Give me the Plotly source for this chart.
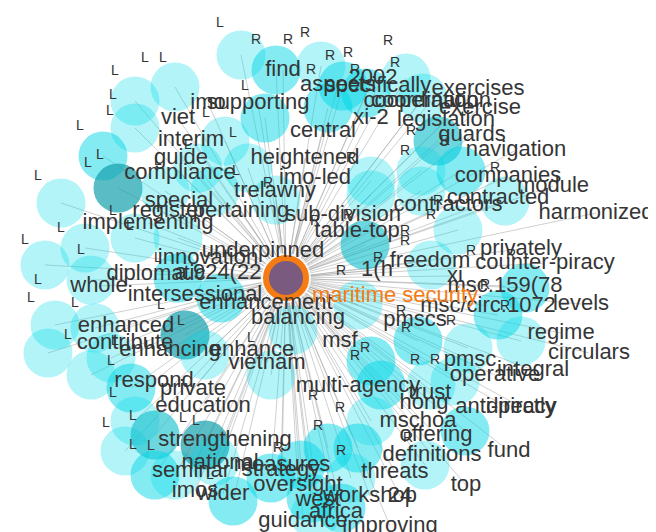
import plotly.graph_objects as go

# ---- data: network layout (pixel-space layout coordinates) ----
center_name = "maritime security"
center_xy = (278, 270)

words = ["find", "aspects", "specifically", "2002", "coordination", "cooperation", "exercises",
         "exercise", "legislation", "xi-2", "guards", "navigation", "companies", "module",
         "contracted", "contractors", "harmonized", "sub-division", "table-top", "freedom",
         "counter-piracy", "privately", "1(h", "xi", "msc.159(78", "msc/circ.1072", "levels",
         "pmscs", "msf", "regime", "circulars", "pmsc", "integral", "operative", "multi-agency",
         "trust", "hong", "anti-piracy", "directly", "mschoa", "offering", "definitions", "fund",
         "threats", "top", "workshop", "24", "improving", "africa", "west", "respond", "private",
         "vietnam", "education", "strengthening", "seminar", "national", "measures", "strategy",
         "oversight", "imos", "wider", "guidance", "special", "register", "pertaining", "trelawny",
         "implementing", "innovation", "underpinned", "diplomatic", "a.924(22", "whole",
         "intersessional", "enhancement", "balancing", "enhanced", "contribute", "enhancing",
         "enhance", "imo", "supporting", "viet", "interim", "guide", "compliance", "heightened",
         "central", "imo-led"]
word_x = [275, 330, 370, 365, 423, 413, 470,
          472, 438, 363, 464, 508, 500, 545,
          490, 440, 588, 335, 349, 422,
          537, 513, 369, 447, 497, 480, 573,
          407, 332, 553, 581, 462, 525, 487, 350,
          422, 416, 498, 513, 410, 428, 424, 501,
          387, 458, 362, 392, 382, 328, 310, 146, 185,
          259, 195, 217, 183, 212, 274, 273,
          290, 187, 215, 295, 171, 161, 233, 267,
          140, 200, 255, 148, 210, 91,
          187, 258, 290, 118, 117, 162,
          244, 200, 250, 170, 183, 173, 172, 297,
          315, 307]
word_y = [62, 77, 78, 70, 93, 93, 81,
          100, 112, 110, 127, 142, 168, 178,
          190, 197, 205, 207, 223, 253,
          255, 241, 262, 268, 278, 298, 296,
          312, 333, 325, 345, 352, 362, 367, 378,
          385, 395, 399, 399, 413, 427, 447, 443,
          464, 477, 488, 488, 518, 504, 492, 373, 381,
          355, 398, 432, 463, 455, 457, 462,
          477, 483, 486, 513, 193, 203, 203, 183,
          215, 250, 243, 266, 265, 278,
          287, 295, 310, 318, 335, 342,
          342, 95, 95, 110, 132, 150, 165, 150,
          123, 170]

circle_x = [233, 268, 313, 335, 358, 398, 415, 430, 453, 413, 363, 257, 217, 240, 167, 127, 127, 95,
            110, 190, 320, 363, 413, 497, 450, 357, 423, 517, 490, 513, 460, 410, 363, 350,
            53, 157, 207, 37, 77, 83, 127, 170, 170, 213, 177, 197, 87, 47, 40, 103, 285, 268,
            83, 123, 127, 117, 147, 147, 167, 197, 207, 225, 263, 263, 293, 303, 320, 307,
            373, 423, 447, 363, 350, 457, 417, 343, 333]
circle_y = [47, 62, 58, 78, 85, 70, 90, 133, 163, 163, 173, 110, 133, 160, 79, 93, 120, 148,
            180, 160, 100, 187, 183, 193, 222, 237, 257, 280, 307, 333, 340, 333, 353, 297,
            195, 183, 183, 257, 240, 272, 230, 230, 270, 290, 327, 347, 320, 317, 345, 350, 322, 192,
            367, 380, 413, 443, 427, 467, 467, 437, 453, 493, 470, 367, 457, 490, 440, 507,
            377, 377, 373, 413, 440, 423, 457, 470, 500]
# shade level of each circle: 1 light, 2 medium, 3 dark, 4 darkest
circle_level = [1, 2, 1, 2, 2, 1, 1, 3, 2, 1, 1, 2, 1, 1, 1, 1, 1, 2,
                4, 1, 2, 1, 1, 1, 1, 3, 1, 2, 2, 1, 1, 2, 2, 1,
                1, 1, 1, 1, 1, 1, 1, 1, 2, 2, 4, 1, 1, 1, 1, 1, 1, 1,
                1, 2, 1, 1, 3, 2, 1, 4, 1, 2, 2, 1, 2, 2, 2, 1,
                2, 1, 1, 1, 2, 2, 1, 1, 2]

l_x = [212, 137, 155, 107, 105, 102, 72, 92, 80, 30, 237, 198, 225, 180, 150, 228, 105, 53, 122, 17,
       73, 150, 30, 23, 67, 153, 173, 60, 107, 103, 243, 105, 98, 125, 125, 143, 175, 188, 202]
l_y = [15, 50, 50, 63, 87, 103, 118, 147, 155, 168, 78, 105, 125, 137, 153, 163, 203, 220, 218, 232,
       242, 250, 272, 290, 295, 297, 313, 327, 333, 353, 330, 385, 415, 408, 437, 438, 410, 413, 467]
r_x = [248, 280, 297, 322, 303, 260, 380, 340, 387, 347, 403, 437, 397, 487, 343, 307, 430, 423, 340,
       397, 397, 370, 333, 463, 503, 477, 497, 393, 398, 443, 357, 347, 407, 427, 310, 270, 332, 333,
       400, 305]
r_y = [32, 32, 25, 48, 62, 175, 33, 45, 55, 62, 123, 133, 143, 160, 150, 213, 193, 207, 207,
       223, 233, 250, 263, 243, 247, 277, 298, 303, 320, 313, 340, 348, 352, 352, 418, 440, 400, 443,
       430, 388]

# ---- styles ----
level_color = {1: "rgba(0,218,232,0.30)", 2: "rgba(0,214,230,0.48)",
               3: "rgba(20,190,205,0.62)", 4: "rgba(20,160,172,0.70)"}
FONT = "Liberation Sans, Arial, sans-serif"

cx, cy = center_xy
ex, ey = [], []
for x, y in list(zip(circle_x, circle_y)) + list(zip(word_x, word_y)):
    ex += [cx, x, None]
    ey += [cy, y, None]

fig = go.Figure()
fig.add_trace(go.Scatter(x=ex, y=ey, mode="lines",
                         line=dict(color="rgba(160,160,160,0.7)", width=0.7),
                         hoverinfo="skip"))
fig.add_trace(go.Scatter(x=circle_x, y=circle_y, mode="markers",
                         marker=dict(size=49, color=[level_color[v] for v in circle_level],
                                     line=dict(width=0)),
                         hoverinfo="skip"))
fig.add_trace(go.Scatter(x=[cx], y=[cy], mode="markers",
                         marker=dict(size=50, color="rgba(255,255,255,0.8)", line=dict(width=0)),
                         hoverinfo="skip"))
fig.add_trace(go.Scatter(x=[cx], y=[cy], mode="markers",
                         marker=dict(size=40, color="#7b5a80",
                                     line=dict(color="#f57c12", width=6)),
                         hoverinfo="skip"))
fig.add_trace(go.Scatter(x=l_x, y=l_y, mode="text", text=["L"] * len(l_x),
                         textfont=dict(size=14, color="#333333", family=FONT), hoverinfo="skip"))
fig.add_trace(go.Scatter(x=r_x, y=r_y, mode="text", text=["R"] * len(r_x),
                         textfont=dict(size=14, color="#333333", family=FONT), hoverinfo="skip"))
fig.add_trace(go.Scatter(x=word_x, y=word_y, mode="text", text=words,
                         textfont=dict(size=22, color="#353535", family=FONT), hoverinfo="skip"))
fig.add_trace(go.Scatter(x=[387], y=[288], mode="text", text=[center_name],
                         textfont=dict(size=22, color="#f57c12", family=FONT), hoverinfo="skip"))

fig.update_layout(width=656, height=532, margin=dict(l=0, r=0, t=0, b=0),
                  paper_bgcolor="white", plot_bgcolor="white", showlegend=False,
                  xaxis=dict(range=[0, 656], visible=False, fixedrange=True),
                  yaxis=dict(range=[532, 0], visible=False, fixedrange=True))
fig.write_html("out.html")
